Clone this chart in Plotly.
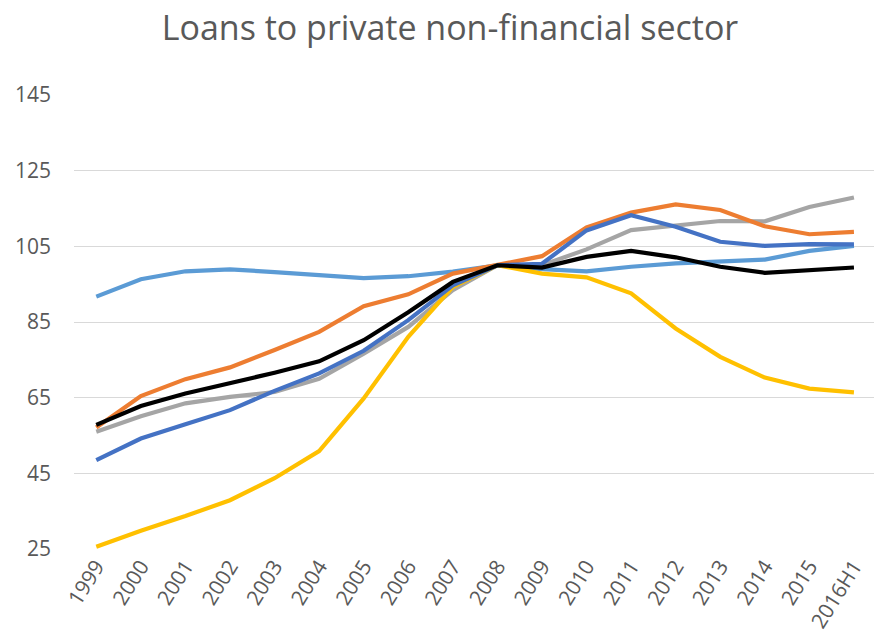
import plotly.graph_objects as go

categories = ["1999", "2000", "2001", "2002", "2003", "2004", "2005", "2006", "2007",
              "2008", "2009", "2010", "2011", "2012", "2013", "2014", "2015", "2016H1"]

light_blue = [91.7, 96.3, 98.4, 98.9, 98.2, 97.4, 96.6, 97.1, 98.3, 100.0, 99.0, 98.4,
              99.6, 100.5, 100.9, 101.5, 103.8, 105.1]
orange = [57.1, 65.4, 69.9, 73.0, 77.6, 82.4, 89.2, 92.3, 97.8, 100.0, 102.4, 110.0,
          113.9, 116.1, 114.6, 110.3, 108.2, 108.8]
gray = [56.0, 60.1, 63.5, 65.2, 66.5, 70.0, 76.6, 83.7, 93.4, 100.0, 100.0, 104.2,
        109.3, 110.6, 111.7, 111.6, 115.4, 117.9]
dark_blue = [48.5, 54.2, 58.0, 61.7, 66.8, 71.4, 77.4, 85.5, 94.7, 100.0, 100.4, 109.2,
             113.2, 110.2, 106.2, 105.1, 105.6, 105.5]
yellow = [25.6, 29.8, 33.7, 37.9, 43.7, 50.9, 64.8, 81.1, 94.3, 100.0, 97.8, 96.8,
          92.6, 83.3, 75.8, 70.3, 67.4, 66.4]
black = [57.8, 62.8, 66.1, 68.8, 71.6, 74.6, 80.2, 87.6, 95.6, 100.0, 99.4, 102.2,
         103.8, 102.1, 99.6, 98.0, 98.7, 99.4]

y_ticks = [25, 45, 65, 85, 105, 125, 145]

series = [
    ("Series light blue", light_blue, "#5B9BD5"),
    ("Series gray", gray, "#A5A5A5"),
    ("Series orange", orange, "#ED7D31"),
    ("Series yellow", yellow, "#FFC000"),
    ("Series dark blue", dark_blue, "#4472C4"),
    ("Series black", black, "#000000"),
]

fig = go.Figure()
for name, vals, col in series:
    fig.add_trace(go.Scatter(x=categories, y=vals, mode="lines", name=name,
                             line=dict(color=col, width=4.2)))

fig.update_layout(
    width=874, height=644,
    paper_bgcolor="white", plot_bgcolor="white",
    margin=dict(l=74, r=0, t=95, b=95),
    showlegend=False,
    title=dict(text="Loans to private non-financial sector", xref="paper", x=0.47,
               xanchor="center", y=0.957, yanchor="middle",
               font=dict(family="Open Sans", size=34, color="#595959")),
    font=dict(family="Open Sans", color="#595959"),
)
fig.update_xaxes(type="category", range=[-0.5, 17.45], showgrid=False, showline=False,
                 tickangle=-58, tickfont=dict(size=21, color="#595959"), ticks="")
fig.update_yaxes(range=[25, 145], tickvals=y_ticks, showgrid=True, gridcolor="#D9D9D9",
                 gridwidth=1.3, zeroline=False, showline=False,
                 tickfont=dict(size=21, color="#595959"), ticklabelstandoff=22)

fig.write_html("out.html")
